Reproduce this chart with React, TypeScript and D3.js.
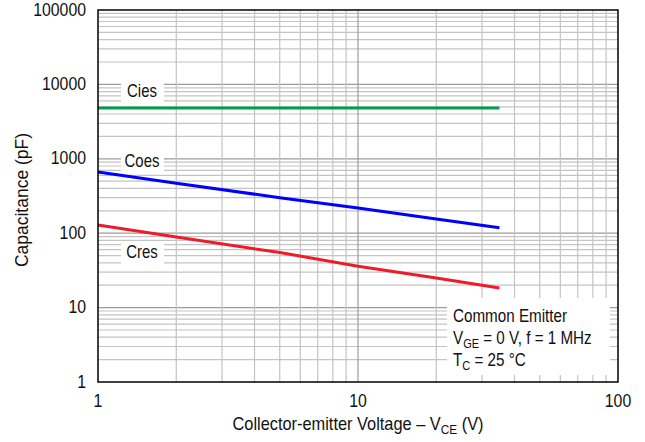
import * as d3 from 'd3';
import { useEffect, useRef } from 'react';

// collector-emitter voltage points (V)
const vce = [1, 2, 5, 10, 20, 35];
// capacitances (pF)
const cies = [4800, 4800, 4800, 4800, 4800, 4800];
const coes = [665, 470, 300, 218, 155, 118];
const cres = [129, 89, 55, 36, 25, 18.3];

const xTicks = [1, 10, 100];
const yTicks = [1, 10, 100, 1000, 10000, 100000];

const series = [
  { name: 'Cies', values: cies, color: '#00a04b', lx: 142, ly: 97 },
  { name: 'Coes', values: coes, color: '#0000ff', lx: 142, ly: 167 },
  { name: 'Cres', values: cres, color: '#ee1c2a', lx: 142, ly: 258 },
];

const FONT = '"Liberation Sans", Arial, sans-serif';
const NARROW = 0.86; // the original uses a condensed face

const App = () => {
  const ref = useRef<SVGSVGElement>(null);

  useEffect(() => {
    const svg = d3.select(ref.current);
    svg.selectAll('*').remove();

    const W = 645, H = 442;
    const margin = { left: 98, right: 27, top: 10, bottom: 60 };
    const x0 = margin.left, x1 = W - margin.right;
    const y0 = H - margin.bottom, y1 = margin.top;

    const x = d3.scaleLog().domain([1, 100]).range([x0, x1]);
    const y = d3.scaleLog().domain([1, 100000]).range([y0, y1]);

    // text in its own group, squeezed sideways like the condensed original
    const label = (px: number, py: number, anchor: string, size: number, sx = NARROW, rot = 0) => {
      const g = svg.append('g')
        .attr('transform', `translate(${px},${py}) rotate(${rot}) scale(${sx},1)`);
      return g.append('text')
        .attr('text-anchor', anchor)
        .style('font-family', FONT).style('font-size', size + 'px')
        .attr('fill', '#111');
    };

    svg.append('rect').attr('width', W).attr('height', H).attr('fill', '#fff');

    // minor horizontal grid
    const minorY: number[] = [];
    for (let d = 1; d < 100000; d *= 10) for (let k = 2; k <= 9; k++) minorY.push(d * k);
    svg.append('g').selectAll('line').data(minorY).enter().append('line')
      .attr('x1', x0).attr('x2', x1)
      .attr('y1', d => y(d)).attr('y2', d => y(d))
      .attr('stroke', '#c4c4c4').attr('stroke-width', 1.2);

    // major horizontal
    svg.append('g').selectAll('line').data(yTicks.slice(1, -1)).enter().append('line')
      .attr('x1', x0).attr('x2', x1)
      .attr('y1', d => y(d)).attr('y2', d => y(d))
      .attr('stroke', '#9c9c9c').attr('stroke-width', 1.2);

    // vertical grid
    const minorX: number[] = [];
    for (let d = 1; d < 100; d *= 10) for (let k = 2; k <= 9; k++) minorX.push(d * k);
    svg.append('g').selectAll('line').data(minorX).enter().append('line')
      .attr('x1', d => x(d)).attr('x2', d => x(d))
      .attr('y1', y0).attr('y2', y1)
      .attr('stroke', '#c4c4c4').attr('stroke-width', 1.2);
    svg.append('line')
      .attr('x1', x(10)).attr('x2', x(10)).attr('y1', y0).attr('y2', y1)
      .attr('stroke', '#9c9c9c').attr('stroke-width', 1.2);

    // white boxes behind the curve names
    series.forEach(s => {
      svg.append('rect')
        .attr('x', s.lx - 21).attr('y', s.ly - 17)
        .attr('width', 43).attr('height', 23).attr('fill', '#fff');
    });
    // note box
    svg.append('rect').attr('x', 447).attr('y', 298).attr('width', 163).attr('height', 77).attr('fill', '#fff');

    // curves
    const line = d3.line<number>()
      .x((_, i) => x(vce[i]))
      .y(d => y(d));
    series.forEach(s => {
      svg.append('path')
        .datum(s.values)
        .attr('d', line)
        .attr('fill', 'none')
        .attr('stroke', s.color)
        .attr('stroke-width', 3);
      label(s.lx, s.ly, 'middle', 18, 0.83).text(s.name);
    });

    // frame
    svg.append('rect')
      .attr('x', x0).attr('y', y1).attr('width', x1 - x0).attr('height', y0 - y1)
      .attr('fill', 'none').attr('stroke', '#000').attr('stroke-width', 1.5);

    // tick labels
    yTicks.forEach(d => label(x0 - 12, y(d) + 5.5, 'end', 18, 0.88).text(d3.format('d')(d)));
    xTicks.forEach(d => label(x(d), y0 + 25, 'middle', 18, 0.88).text(d3.format('d')(d)));

    // axis titles
    const xt = label((x0 + x1) / 2, 430, 'middle', 18, 0.91);
    xt.append('tspan').text('Collector-emitter Voltage – V');
    xt.append('tspan').attr('dy', 4).style('font-size', '13px').text('CE');
    xt.append('tspan').attr('dy', -4).text(' (V)');

    label(28, 200, 'middle', 17.5, 1.0, -90).text('Capacitance (pF)');

    // note
    label(453, 322, 'start', 18, 0.845).text('Common Emitter');
    const n2 = label(453, 344, 'start', 18, 0.845);
    n2.append('tspan').text('V');
    n2.append('tspan').attr('dy', 4).style('font-size', '13px').text('GE');
    n2.append('tspan').attr('dy', -4).text(' = 0 V, f = 1 MHz');
    const n3 = label(453, 366, 'start', 18, 0.845);
    n3.append('tspan').text('T');
    n3.append('tspan').attr('dy', 4).style('font-size', '13px').text('C');
    n3.append('tspan').attr('dy', -4).text(' = 25 °C');
  }, []);

  return (
    <svg ref={ref} width={645} height={442}
      style={{ position: 'absolute', left: 0, top: 0, display: 'block' }} />
  );
};

export default App;
